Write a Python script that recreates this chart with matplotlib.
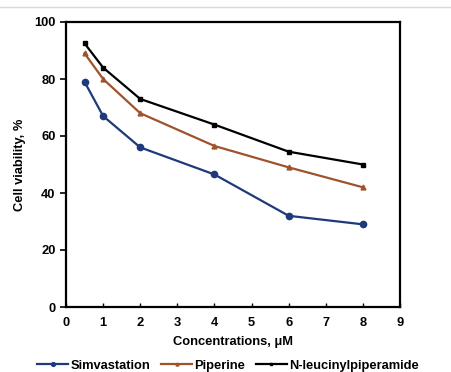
import matplotlib
matplotlib.use("Agg")
import matplotlib.pyplot as plt
from matplotlib.lines import Line2D

conc = [0.5, 1, 2, 4, 6, 8]
simva = [79, 67, 56, 46.5, 32, 29]
piper = [89, 80, 68, 56.5, 49, 42]
nleu = [92.5, 84, 73, 64, 54.5, 50]

plt.rcParams['font.family'] = ['Liberation Sans', 'DejaVu Sans']
plt.rcParams['font.weight'] = 'bold'
fs = 9.3

fig = plt.figure(figsize=(4.52, 3.72), dpi=100)
ax = fig.add_axes([66/452, 1-307/372, (400-66)/452, (307-22)/372])

ax.plot(conc, simva, color='#1f3a7a', marker='o', ms=4.5, lw=1.6, label='Simvastation')
ax.plot(conc, piper, color='#a0522d', marker='^', ms=3.5, lw=1.6, label='Piperine')
ax.plot(conc, nleu, color='black', marker='s', ms=3.5, lw=1.6, label='N-leucinylpiperamide')

ax.set_xlim(0, 9)
ax.set_ylim(0, 100)
ax.set_xticks(range(0, 10))
ax.set_yticks(range(0, 101, 20))
ax.tick_params(axis='x', direction='in', length=3, width=1, labelsize=fs, pad=7)
ax.tick_params(axis='y', direction='out', length=4, width=1.2, labelsize=fs)
for s in ax.spines.values():
    s.set_linewidth(1.6)
ax.set_xlabel('Concentrations, μM', fontsize=fs, fontweight='bold', labelpad=5)
ax.set_ylabel('Cell viability, %', fontsize=fs, fontweight='bold', labelpad=6)

leg = fig.legend(loc='lower center', bbox_to_anchor=(0.505, -0.03), ncol=3, frameon=False,
           handlelength=2.4, columnspacing=0.8, handletextpad=0.2, markerscale=0.6,
           prop={'weight': 'bold', 'size': fs})

fig.add_artist(Line2D([0, 1], [1-7/372, 1-7/372], color='#d9d9d9', lw=1, transform=fig.transFigure))

fig.savefig('out.png', dpi=100)
